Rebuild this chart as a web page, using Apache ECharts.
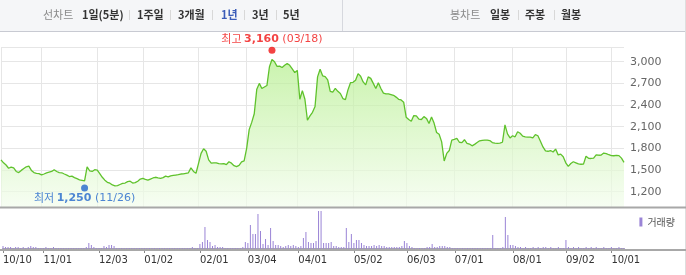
<!DOCTYPE html>
<html><head><meta charset="utf-8">
<script src="https://cdn.jsdelivr.net/npm/echarts@6/dist/echarts.min.js"></script>
<style>html,body{margin:0;padding:0;background:#fff}#c{width:686px;height:275px}</style>
</head><body><div id="c"></div>
<script>
// ---- data ----
const startDate = '2012-10-10';
const endDate = '2013-10-10';
const holidays = ['2012-12-19','2012-12-25','2012-12-31','2013-01-01','2013-02-11','2013-03-01',
  '2013-05-01','2013-05-17','2013-06-06','2013-08-15','2013-09-18','2013-09-19','2013-09-20',
  '2013-10-03','2013-10-09'];
const closePrices = [
  1640,1600,1570,1525,1540,1530,1480,1465,1495,1520,1545,1555,1495,1465,1455,1450,1432,1445,1460,1470,
  1480,1505,1480,1465,1462,1445,1430,1410,1415,1395,1380,1365,1358,1350,1545,1490,1480,1505,1500,1450,
  1400,1360,1330,1318,1293,1280,1285,1300,1315,1320,1340,1345,1320,1325,1345,1375,1385,1370,1360,1375,
  1390,1400,1392,1385,1395,1415,1405,1420,1425,1430,1435,1445,1448,1455,1462,1530,1480,1455,1593,1731,
  1795,1760,1640,1595,1600,1600,1590,1585,1590,1575,1615,1595,1560,1548,1565,1612,1628,1800,2060,2160,
  2280,2620,2700,2630,2650,2670,2930,3030,3000,2935,2940,2920,2950,2975,2950,2900,2850,2880,2480,2600,
  2480,2190,2250,2300,2380,2790,2895,2805,2795,2750,2590,2580,2630,2590,2560,2490,2475,2610,2710,2715,
  2745,2835,2800,2720,2680,2790,2770,2700,2630,2710,2630,2565,2555,2555,2545,2535,2510,2480,2470,2440,
  2230,2200,2175,2255,2250,2205,2200,2240,2215,2145,2235,2150,2020,1995,1890,1625,1730,1770,1915,1925,
  1938,1885,1880,1920,1870,1860,1835,1855,1880,1905,1912,1915,1915,1908,1880,1872,1870,1872,1885,2125,
  2000,1945,1975,1960,2030,2010,1970,1960,1955,1955,1945,1990,1975,1900,1820,1765,1760,1770,1750,1790,
  1710,1720,1685,1600,1550,1590,1615,1600,1585,1580,1582,1690,1662,1660,1665,1710,1705,1708,1735,1728,
  1712,1700,1698,1702,1700,1665,1605
];
const volumes = [ // thousand shares
  60,40,40,40,20,40,40,20,40,20, 40,60,40,40,20,20,20,40,20,20, 40,20,20,20,20,20,20,20,20,20,
  20,20,20,40,120,80,40,20,20,20, 60,40,80,80,60,20,20,20,20,20, 20,20,20,20,20,20,20,20,20,20,
  20,20,20,20,20,20,20,20,20,20, 20,20,20,20,20,40,20,20,100,140, 440,180,140,60,80,40,40,40,20,20,
  20,20,20,20,20,40,140,120,480,300, 300,700,360,100,200,80,420,160,80,80, 60,40,60,80,60,80,60,40,60,220,
  340,140,120,120,160,760,760,120,120,120, 140,60,60,40,40,40,420,140,300,120, 180,180,120,80,60,60,60,80,60,80,
  60,60,40,40,40,40,40,40,60,160, 120,60,40,20,20,20,20,20,40,40, 100,40,40,60,60,60,40,40,20,20,
  20,20,20,20,20,20,20,20,20,20, 20,20,20,20,280,20,20,20,40,640, 280,80,80,60,40,40,20,40,20,20,
  40,20,40,20,40,40,20,40,20,20, 40,20,20,180,40,20,40,20,40,20, 20,40,20,40,20,40,20,20,40,20,
  20,40,20,20,40,20,20
];
const priceTicks = [1200,1500,1800,2100,2400,2700,3000];
const highPoint = {date:'03/18', value:3160};
const lowPoint = {date:'11/26', value:1250};
const periodTabs = ['1일(5분)','1주일','3개월','1년','3년','5년'];
const candleTabs = ['일봉','주봉','월봉'];

// ---- build ----
function buildDates(){
  const out=[]; const hs=new Set(holidays);
  let d=new Date(startDate+'T00:00:00Z'); const end=new Date(endDate+'T00:00:00Z');
  while(d<=end){
    const wd=d.getUTCDay(); const iso=d.toISOString().slice(0,10);
    if(wd!==0&&wd!==6&&!hs.has(iso)) out.push(iso.slice(5,7)+'/'+iso.slice(8,10));
    d=new Date(d.getTime()+86400000);
  }
  return out;
}
const dates = buildDates();
const monthStart = new Set();
dates.forEach((d,i)=>{ if(i===0 || d.slice(0,2)!==dates[i-1].slice(0,2)) monthStart.add(i); });
const isMonthStart = (i)=>monthStart.has(i);
const fmt = v=>v.toLocaleString('en-US');
const hiIdx = dates.indexOf(highPoint.date), loIdx = dates.indexOf(lowPoint.date);

const KR = '"Noto Sans CJK KR", sans-serif';
const NUM = '"DejaVu Sans", Verdana, sans-serif';

const graphics = [
  {type:'rect', shape:{x:0,y:0,width:686,height:31}, style:{fill:'#f5f6f8'}, z:-1},
  {type:'line', shape:{x1:0,y1:31.5,x2:686,y2:31.5}, style:{stroke:'#c8cad2',lineWidth:1}},
  {type:'line', shape:{x1:342.5,y1:0,x2:342.5,y2:31}, style:{stroke:'#d6d8de',lineWidth:1}},
  {type:'line', shape:{x1:685.5,y1:0,x2:685.5,y2:275}, style:{stroke:'#dedede',lineWidth:1}},
  {type:'line', shape:{x1:0,y1:207.5,x2:686,y2:207.5}, style:{stroke:'#a8a8a8',lineWidth:2}, z:5},
  {type:'line', shape:{x1:0,y1:250,x2:686,y2:250}, style:{stroke:'#a8a8a8',lineWidth:2}, z:5},
];
function headText(x, text, color, weight){
  graphics.push({type:'text', x:x, y:15, style:{text:text, fill:color, font:(weight||'bold')+' 11px '+KR, textVerticalAlign:'middle'}});
}
function headSep(x){
  graphics.push({type:'line', shape:{x1:x,y1:10,x2:x,y2:20}, style:{stroke:'#d8d8d8',lineWidth:1}});
}
headText(43,'선차트','#8a8a8a','normal');
const tabX = [82,137,178,221,252,283];
periodTabs.forEach((t,i)=>{ headText(tabX[i], t, t==='1년'?'#3a5bb8':'#333'); });
[129.5,170.5,212.5,244.5,276.5].forEach(headSep);
headText(450,'봉차트','#8a8a8a','normal');
const cX=[490,525,561];
candleTabs.forEach((t,i)=>headText(cX[i], t, '#333'));
[518.5,554.5].forEach(headSep);

const chart = echarts.init(document.getElementById('c'), null, {renderer:'canvas'});
chart.setOption({
  animation:false,
  backgroundColor:'#fff',
  legend:{data:['거래량'], right:6, top:212, itemWidth:3, itemHeight:9, itemGap:2, icon:'rect',
    textStyle:{fontSize:10, color:'#555', fontFamily:KR}},
  grid:[
    {left:1, right:62, top:47, height:160},
    {left:1, right:62, top:211, height:38}
  ],
  xAxis:[
    {type:'category', gridIndex:0, data:dates, boundaryGap:false,
      axisLine:{show:false}, axisTick:{show:false}, axisLabel:{show:false},
      splitLine:{show:true, interval:isMonthStart, lineStyle:{color:'#e6e6e6', width:1}}},
    {type:'category', gridIndex:1, data:dates, boundaryGap:false,
      axisLine:{show:true, lineStyle:{color:'#a8a8a8', width:2}},
      axisTick:{show:true, interval:isMonthStart, length:4, lineStyle:{color:'#888'}},
      axisLabel:{show:true, interval:isMonthStart, align:'left', margin:6, color:'#333', fontSize:10, fontFamily:NUM},
      splitLine:{show:false}}
  ],
  yAxis:[
    {type:'value', gridIndex:0, position:'right', min:988, max:3204,
      axisLine:{show:false},
      axisTick:{show:false, customValues:[1200,1500,1800,2100,2400,2700,3000,3200]},
      axisLabel:{show:true, customValues:priceTicks, formatter:fmt, color:'#666', fontSize:11, fontFamily:NUM, margin:6},
      splitLine:{show:true, lineStyle:{color:'#e6e6e6', width:1}}},
    {type:'value', gridIndex:1, min:0, max:Math.max(...volumes), show:false, splitLine:{show:false}}
  ],
  series:[
    {name:'종가', type:'line', xAxisIndex:0, yAxisIndex:0, data:closePrices, symbol:'none',
      lineStyle:{color:'#5fc22c', width:1.3},
      areaStyle:{color:new echarts.graphic.LinearGradient(0,0,0,1,[{offset:0,color:'#b4ee8c'},{offset:1,color:'#f3fded'}])},
      z:3},
    {name:'거래량', type:'bar', xAxisIndex:1, yAxisIndex:1, data:volumes, barWidth:1,
      itemStyle:{color:'#9a84d6'}},
    {name:'marks', type:'scatter', xAxisIndex:0, yAxisIndex:0, symbolSize:7, z:10,
      data:[
        {value:[hiIdx, highPoint.value], itemStyle:{color:'#f01414'},
          label:{show:true, position:'top', distance:2,
            formatter:'{a|최고 }{b|'+fmt(highPoint.value)+'}{c| ('+highPoint.date+')}',
            rich:{a:{color:'#f01414',fontSize:11,fontFamily:KR},b:{color:'#f01414',fontSize:11,fontWeight:'bold',fontFamily:NUM},c:{color:'#f01414',fontSize:11,fontFamily:NUM}}}},
        {value:[loIdx, lowPoint.value], itemStyle:{color:'#2266cc'},
          label:{show:true, position:'bottom', distance:1,
            formatter:'{a|최저 }{b|'+fmt(lowPoint.value)+'}{c| ('+lowPoint.date+')}',
            rich:{a:{color:'#2266cc',fontSize:11,fontFamily:KR},b:{color:'#2266cc',fontSize:11,fontWeight:'bold',fontFamily:NUM},c:{color:'#2266cc',fontSize:11,fontFamily:NUM}}}}
      ]}
  ],
  graphic:graphics
});
</script></body></html>
